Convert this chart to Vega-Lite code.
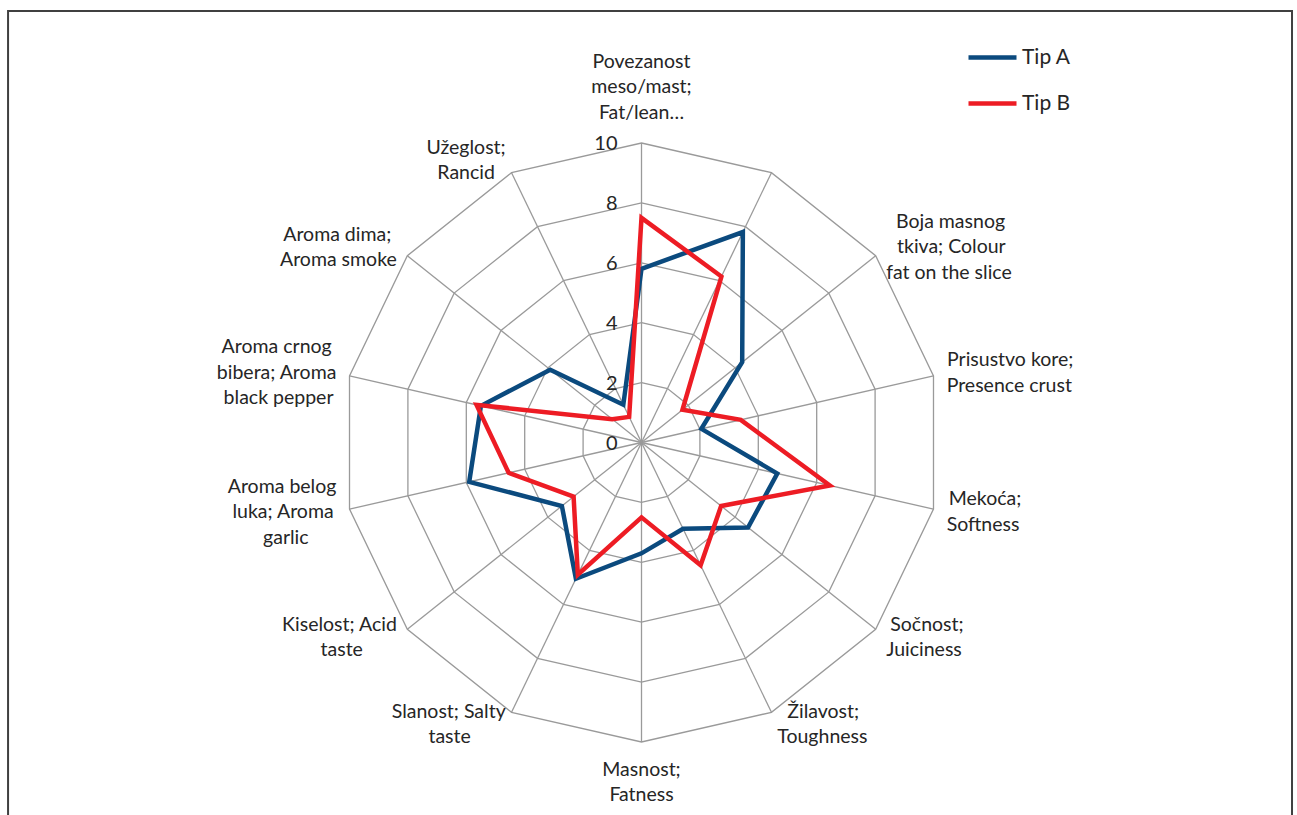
{
  "$schema": "https://vega.github.io/schema/vega-lite/v6.json",
  "width": 599,
  "height": 599,
  "autosize": "none",
  "padding": {"left": 342, "top": 143, "right": 356, "bottom": 73},
  "background": "white",
  "config": {"view": {"stroke": null}, "font": "Lato"},
  "datasets": {
    "axes": [
      {"idx": 0, "label": "Povezanost\nmeso/mast;\nFat/lean…"},
      {"idx": 1, "label": ""},
      {"idx": 2, "label": "Boja masnog\ntkiva; Colour\nfat on the slice"},
      {"idx": 3, "label": "Prisustvo kore;\nPresence crust"},
      {"idx": 4, "label": "Mekoća;\nSoftness"},
      {"idx": 5, "label": "Sočnost;\nJuiciness"},
      {"idx": 6, "label": "Žilavost;\nToughness"},
      {"idx": 7, "label": "Masnost;\nFatness"},
      {"idx": 8, "label": "Slanost; Salty\ntaste"},
      {"idx": 9, "label": "Kiselost; Acid\ntaste"},
      {"idx": 10, "label": "Aroma belog\nluka; Aroma\ngarlic"},
      {"idx": 11, "label": "Aroma crnog\nbibera; Aroma\nblack pepper"},
      {"idx": 12, "label": "Aroma dima;\nAroma smoke"},
      {"idx": 13, "label": "Užeglost;\nRancid"}
    ],
    "scores": [
      {"idx": 0, "tip": "Tip A", "value": 5.8},
      {"idx": 1, "tip": "Tip A", "value": 7.8},
      {"idx": 2, "tip": "Tip A", "value": 4.3},
      {"idx": 3, "tip": "Tip A", "value": 2.05},
      {"idx": 4, "tip": "Tip A", "value": 4.65},
      {"idx": 5, "tip": "Tip A", "value": 4.55},
      {"idx": 6, "tip": "Tip A", "value": 3.2},
      {"idx": 7, "tip": "Tip A", "value": 3.7},
      {"idx": 8, "tip": "Tip A", "value": 5.05},
      {"idx": 9, "tip": "Tip A", "value": 3.4},
      {"idx": 10, "tip": "Tip A", "value": 5.9},
      {"idx": 11, "tip": "Tip A", "value": 5.5},
      {"idx": 12, "tip": "Tip A", "value": 3.9},
      {"idx": 13, "tip": "Tip A", "value": 1.4},
      {"idx": 0, "tip": "Tip B", "value": 7.5},
      {"idx": 1, "tip": "Tip B", "value": 6.15},
      {"idx": 2, "tip": "Tip B", "value": 1.75},
      {"idx": 3, "tip": "Tip B", "value": 3.4},
      {"idx": 4, "tip": "Tip B", "value": 6.45},
      {"idx": 5, "tip": "Tip B", "value": 3.4},
      {"idx": 6, "tip": "Tip B", "value": 4.55},
      {"idx": 7, "tip": "Tip B", "value": 2.5},
      {"idx": 8, "tip": "Tip B", "value": 4.9},
      {"idx": 9, "tip": "Tip B", "value": 2.9},
      {"idx": 10, "tip": "Tip B", "value": 4.55},
      {"idx": 11, "tip": "Tip B", "value": 5.65},
      {"idx": 12, "tip": "Tip B", "value": 1.25},
      {"idx": 13, "tip": "Tip B", "value": 0.95}
    ],
    "ticks": [{"v": 0}, {"v": 2}, {"v": 4}, {"v": 6}, {"v": 8}, {"v": 10}]
  },
  "layer": [
    {
      "data": {"values": [{"frame": "border"}]},
      "transform": [
        {"calculate": "-21.15", "as": "fx1"},
        {"calculate": "21.72", "as": "fx2"},
        {"calculate": "14.41", "as": "fy1"},
        {"calculate": "-13", "as": "fy2"}
      ],
      "mark": {"type": "rect", "filled": false, "stroke": "#404040", "strokeWidth": 2},
      "encoding": {
        "x": {"field": "fx1", "type": "quantitative", "scale": {"domain": [-10, 10]}, "axis": null},
        "x2": {"field": "fx2"},
        "y": {"field": "fy1", "type": "quantitative", "scale": {"domain": [-10, 10]}, "axis": null},
        "y2": {"field": "fy2"}
      }
    },
    {
      "data": {"name": "axes"},
      "transform": [
        {"calculate": "[2, 4, 6, 8, 10]", "as": "r"},
        {"flatten": ["r"]},
        {"calculate": "datum.idx * 2 * PI / 14", "as": "a"},
        {"calculate": "datum.r * sin(datum.a)", "as": "gx"},
        {"calculate": "datum.r * cos(datum.a)", "as": "gy"}
      ],
      "mark": {"type": "line", "interpolate": "linear-closed", "stroke": "#9a9a9a", "strokeWidth": 1.3},
      "encoding": {
        "x": {"field": "gx", "type": "quantitative", "scale": {"domain": [-10, 10]}, "axis": null},
        "y": {"field": "gy", "type": "quantitative", "scale": {"domain": [-10, 10]}, "axis": null},
        "detail": {"field": "r", "type": "nominal"},
        "order": {"field": "idx", "type": "quantitative"}
      }
    },
    {
      "data": {"name": "axes"},
      "transform": [
        {"calculate": "datum.idx * 2 * PI / 14", "as": "a"},
        {"calculate": "0", "as": "cx"},
        {"calculate": "10 * sin(datum.a)", "as": "ex"},
        {"calculate": "10 * cos(datum.a)", "as": "ey"}
      ],
      "mark": {"type": "rule", "stroke": "#9a9a9a", "strokeWidth": 1.3},
      "encoding": {
        "x": {"field": "cx", "type": "quantitative", "scale": {"domain": [-10, 10]}, "axis": null},
        "y": {"field": "cx", "type": "quantitative", "scale": {"domain": [-10, 10]}, "axis": null},
        "x2": {"field": "ex"},
        "y2": {"field": "ey"}
      }
    },
    {
      "data": {"name": "scores"},
      "transform": [
        {"calculate": "datum.idx * 2 * PI / 14", "as": "a"},
        {"calculate": "datum.value * sin(datum.a)", "as": "sx"},
        {"calculate": "datum.value * cos(datum.a)", "as": "sy"}
      ],
      "mark": {"type": "line", "interpolate": "linear-closed", "strokeWidth": 4.5},
      "encoding": {
        "x": {"field": "sx", "type": "quantitative", "scale": {"domain": [-10, 10]}, "axis": null},
        "y": {"field": "sy", "type": "quantitative", "scale": {"domain": [-10, 10]}, "axis": null},
        "order": {"field": "idx", "type": "quantitative"},
        "color": {
          "field": "tip",
          "type": "nominal",
          "scale": {"domain": ["Tip A", "Tip B"], "range": ["#0B4A7E", "#ED1C24"]},
          "legend": {
            "orient": "none",
            "legendX": 624,
            "legendY": -112,
            "title": null,
            "padding": 0,
            "symbolType": "stroke",
            "symbolSize": 2304,
            "symbolStrokeWidth": 4.5,
            "labelFont": "Lato",
            "labelFontSize": 21,
            "labelColor": "#262626",
            "labelOffset": 3,
            "rowPadding": 9
          }
        }
      }
    },
    {
      "data": {"name": "ticks"},
      "transform": [{"calculate": "0", "as": "cx"}],
      "mark": {"type": "text", "align": "right", "baseline": "middle", "dx": -24, "dy": 1, "fontSize": 20, "color": "#262626", "font": "Lato"},
      "encoding": {
        "x": {"field": "cx", "type": "quantitative", "scale": {"domain": [-10, 10]}, "axis": null},
        "y": {"field": "v", "type": "quantitative", "scale": {"domain": [-10, 10]}, "axis": null},
        "text": {"field": "v", "type": "quantitative"}
      }
    },
    {
      "data": {"name": "axes"},
      "transform": [
        {"filter": "datum.label != ''"},
        {"calculate": "split(datum.label, '\\n')", "as": "lines"},
        {"calculate": "length(datum.lines)", "as": "nl"},
        {"flatten": ["lines"], "as": ["line"]},
        {"window": [{"op": "row_number", "as": "li"}], "groupby": ["idx"]},
        {"calculate": "10.2 * length(datum.line) - 5.5 * length(replace(datum.line, regexp('[^ijl;:., ]', 'g'), '')) - 3.5 * length(replace(datum.line, regexp('[^tfr]', 'g'), '')) + 4.5 * length(replace(datum.line, regexp('[^mwMW]', 'g'), ''))", "as": "w"},
        {"joinaggregate": [{"op": "max", "field": "w", "as": "W"}], "groupby": ["idx"]},
        {"calculate": "datum.idx == 0 || datum.idx == 7 ? 0 : (datum.idx < 7 ? 1 : -1)", "as": "side"},
        {"calculate": "datum.idx * 2 * PI / 14", "as": "a"},
        {"calculate": "(datum.side == 0 ? 10 : 10.45) * sin(datum.a)", "as": "lx"},
        {"calculate": "(datum.side == 0 ? 10 : 10.45) * cos(datum.a)", "as": "ly"},
        {"calculate": "datum.side * (datum.W - datum.w) / 2", "as": "ddx"},
        {"calculate": "datum.side != 0 ? (datum.li - 1 - (datum.nl - 1) / 2) * 25.5 : (datum.idx == 0 ? -30.5 - (datum.nl - datum.li) * 25.5 : 27.5 + (datum.li - 1) * 25.5)", "as": "ddy"}
      ],
      "mark": {
        "type": "text",
        "align": {"expr": "datum.side == 1 ? 'left' : (datum.side == -1 ? 'right' : 'center')"},
        "baseline": "middle",
        "dx": {"expr": "datum.ddx"},
        "dy": {"expr": "datum.ddy"},
        "fontSize": 19.5,
        "color": "#262626",
        "font": "Lato"
      },
      "encoding": {
        "x": {"field": "lx", "type": "quantitative", "scale": {"domain": [-10, 10]}, "axis": null},
        "y": {"field": "ly", "type": "quantitative", "scale": {"domain": [-10, 10]}, "axis": null},
        "text": {"field": "line", "type": "nominal"}
      }
    }
  ]
}
